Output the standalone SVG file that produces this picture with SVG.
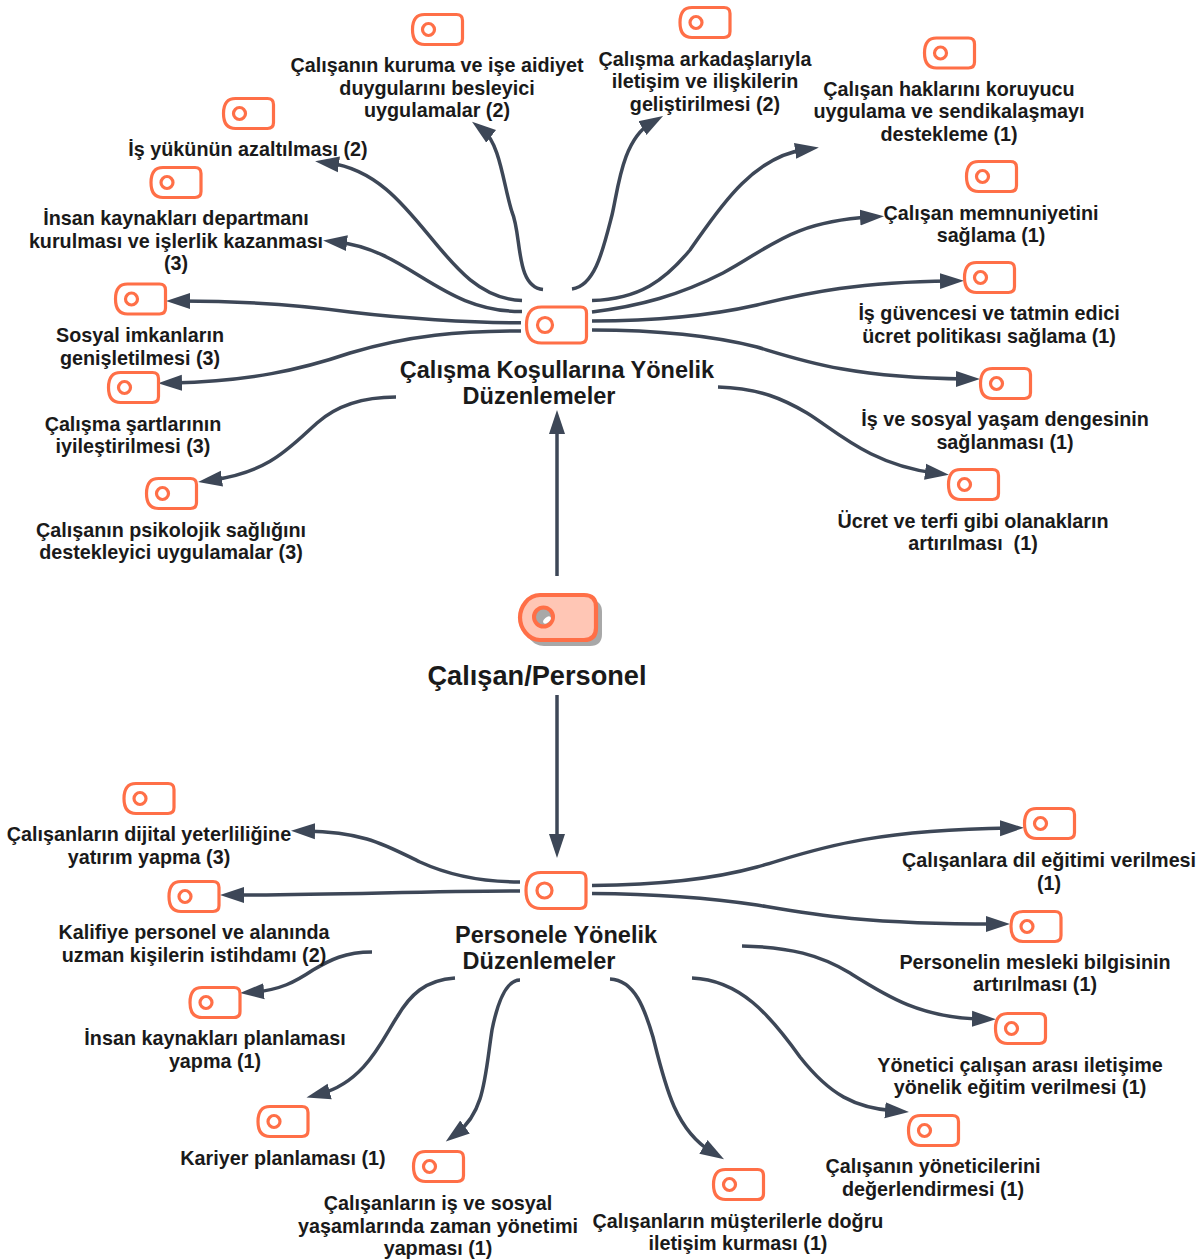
<svg xmlns="http://www.w3.org/2000/svg" width="1204" height="1260" viewBox="0 0 1204 1260">
<style>
text{font-family:"Liberation Sans",Arial,sans-serif;font-weight:700;fill:#1a1a1a;text-anchor:middle}
.l{font-size:19.75px}
.m{font-size:23.5px}
.r{font-size:27.2px}
.tag{fill:#fff;stroke:#ff6f47;stroke-width:3.2}
.hole{fill:#fff;stroke:#ff6f47;stroke-width:3.2}
.c{fill:none;stroke:#3d4757;stroke-width:3.5;marker-end:url(#a)}
</style>
<defs>
<marker id="a" markerUnits="userSpaceOnUse" markerWidth="26" markerHeight="18" refX="10" refY="8" orient="auto" viewBox="0 0 26 16"><path d="M0 0L24 8L0 16Z" fill="#3d4757"/></marker>
<g id="t"><path class="tag" d="M-13-15H19Q25-15 25-9V9Q25 15 19 15H-13Q-25 15-25 0Q-25-15-13-15Z"/><circle class="hole" cx="-9" cy="0" r="6"/></g>
<g id="tb"><path class="tag" d="M-15-18H24Q30-18 30-12V12Q30 18 24 18H-15Q-30 18-30 0Q-30-18-15-18Z"/><circle class="hole" cx="-11.500" cy="0" r="7.500"/></g>
</defs>
<g id="connectors">
<path class="c" d="M543 289.500C515 287 522 235 512 212C504 188 500 143 483.200 130.300"/>
<path class="c" d="M572 289C595 286 603 250 612 215C618 190 622 140 651 123"/>
<path class="c" d="M592 300.500C640 299 665 280 690 250C715 215 750 157 805 149.500"/>
<path class="c" d="M592 312C640 306 680 295 723 273C770 248 790 222 870 217"/>
<path class="c" d="M592 321C640 321 700 318 757 305C810 292 860 282 950 281"/>
<path class="c" d="M592 330C650 330 710 335 757 347C800 360 850 378 966 379"/>
<path class="c" d="M718 387C760 388 785 400 807 413C835 430 870 465 935 473"/>
<path class="c" d="M522 300.500C440 298 420 175 329 163"/>
<path class="c" d="M522 311.500C440 312 410 250 337 242"/>
<path class="c" d="M521 322.700C470 323 400 318 350 312C300 305 250 301 180 301"/>
<path class="c" d="M521 331C460 331 410 335 350 353C300 370 250 381 172 383"/>
<path class="c" d="M396 397C360 397 335 407 317 423C290 447 270 472 212 480"/>
<path class="c" d="M557 576V424"/>
<path class="c" d="M557 695V844"/>
<path class="c" d="M520 882C490 882 455 878 420 862C385 845 365 832 305 831"/>
<path class="c" d="M520 891C430 891 330 895 234 895"/>
<path class="c" d="M372 952C345 952 330 960 313 970C295 982 280 990 254 992"/>
<path class="c" d="M455 978C425 980 410 995 397 1017C382 1040 365 1082 320 1094"/>
<path class="c" d="M520 980C505 980 497 1005 492 1030C485 1075 485 1112 457 1133"/>
<path class="c" d="M610 979C635 980 645 1010 653 1037C665 1085 675 1130 712 1152"/>
<path class="c" d="M692 978C740 980 770 1015 800 1057C830 1095 855 1108 895 1111"/>
<path class="c" d="M742 946C790 947 820 955 850 973C885 995 920 1018 982 1019"/>
<path class="c" d="M592 893.500C650 894 710 898 757 905C810 914 860 924 996 924"/>
<path class="c" d="M592 885.500C650 885 710 880 757 867C810 852 860 830 1010 828"/>
</g>
<g id="root">
<path d="M544 600H590Q602 600 602 612V634Q602 646 590 646H544C532 646 524 634 524 623C524 612 532 600 544 600Z" fill="#a8a8a8"/>
<path d="M540 595H584Q596 595 596 607V628Q596 640 584 640H540C528 640 520 628 520 617.500C520 607 528 595 540 595Z" fill="#ffc6b5" stroke="#ff6f47" stroke-width="4.200"/>
<circle cx="543.500" cy="617" r="9.500" fill="#a8a8a8" stroke="#ff6f47" stroke-width="4"/>
<ellipse cx="547" cy="620" rx="4.500" ry="2.500" transform="rotate(-40 547 620)" fill="#fff"/>
<text class="r" x="537" y="685">Çalışan/Personel</text>
</g>
<g id="n-calisma"><use href="#tb" x="556.500" y="325"/><text class="m" x="557" y="378">Çalışma Koşullarına Yönelik</text><text class="m" x="539" y="404">Düzenlemeler</text></g>
<g id="n-personel"><use href="#tb" x="556" y="890.500"/><text class="m" x="556" y="943">Personele Yönelik</text><text class="m" x="539" y="969">Düzenlemeler</text></g>
<g id="n1"><use href="#t" x="437.500" y="29.500"/><text class="l" x="437" y="72">Çalışanın kuruma ve işe aidiyet</text><text class="l" x="437" y="95">duygularını besleyici</text><text class="l" x="437" y="117">uygulamalar (2)</text></g>
<g id="n2"><use href="#t" x="705" y="22.500"/><text class="l" x="705" y="66">Çalışma arkadaşlarıyla</text><text class="l" x="705" y="88">iletişim ve ilişkilerin</text><text class="l" x="705" y="111">geliştirilmesi (2)</text></g>
<g id="n3"><use href="#t" x="949.500" y="53"/><text class="l" x="949" y="96">Çalışan haklarını koruyucu</text><text class="l" x="949" y="118">uygulama ve sendikalaşmayı</text><text class="l" x="949" y="141">destekleme (1)</text></g>
<g id="n4"><use href="#t" x="248.500" y="113.500"/><text class="l" x="248" y="156">İş yükünün azaltılması (2)</text></g>
<g id="n5"><use href="#t" x="176" y="182.500"/><text class="l" x="176" y="225">İnsan kaynakları departmanı</text><text class="l" x="176" y="248">kurulması ve işlerlik kazanması</text><text class="l" x="176" y="270">(3)</text></g>
<g id="n6"><use href="#t" x="991.500" y="176.500"/><text class="l" x="991" y="220">Çalışan memnuniyetini</text><text class="l" x="991" y="242">sağlama (1)</text></g>
<g id="n7"><use href="#t" x="989.500" y="277.500"/><text class="l" x="989" y="320">İş güvencesi ve tatmin edici</text><text class="l" x="989" y="343">ücret politikası sağlama (1)</text></g>
<g id="n8"><use href="#t" x="140.500" y="299"/><text class="l" x="140" y="342">Sosyal imkanların</text><text class="l" x="140" y="365">genişletilmesi (3)</text></g>
<g id="n9"><use href="#t" x="1005.500" y="383.500"/><text class="l" x="1005" y="426">İş ve sosyal yaşam dengesinin</text><text class="l" x="1005" y="449">sağlanması (1)</text></g>
<g id="n10"><use href="#t" x="133.500" y="387.500"/><text class="l" x="133" y="431">Çalışma şartlarının</text><text class="l" x="133" y="453">iyileştirilmesi (3)</text></g>
<g id="n11"><use href="#t" x="973.500" y="484.500"/><text class="l" x="973" y="528">Ücret ve terfi gibi olanakların</text><text class="l" x="973" y="550" xml:space="preserve">artırılması  (1)</text></g>
<g id="n12"><use href="#t" x="171.500" y="493.500"/><text class="l" x="171" y="537">Çalışanın psikolojik sağlığını</text><text class="l" x="171" y="559">destekleyici uygulamalar (3)</text></g>
<g id="n13"><use href="#t" x="149" y="798.500"/><text class="l" x="149" y="841">Çalışanların dijital yeterliliğine</text><text class="l" x="149" y="864">yatırım yapma (3)</text></g>
<g id="n14"><use href="#t" x="1049.500" y="823.500"/><text class="l" x="1049" y="867">Çalışanlara dil eğitimi verilmesi</text><text class="l" x="1049" y="890">(1)</text></g>
<g id="n15"><use href="#t" x="194" y="896.500"/><text class="l" x="194" y="939">Kalifiye personel ve alanında</text><text class="l" x="194" y="962">uzman kişilerin istihdamı (2)</text></g>
<g id="n16"><use href="#t" x="1036" y="926.500"/><text class="l" x="1035" y="969">Personelin mesleki bilgisinin</text><text class="l" x="1035" y="991">artırılması (1)</text></g>
<g id="n17"><use href="#t" x="215" y="1002.500"/><text class="l" x="215" y="1045">İnsan kaynakları planlaması</text><text class="l" x="215" y="1068">yapma (1)</text></g>
<g id="n18"><use href="#t" x="1020.500" y="1028.500"/><text class="l" x="1020" y="1072">Yönetici çalışan arası iletişime</text><text class="l" x="1020" y="1094">yönelik eğitim verilmesi (1)</text></g>
<g id="n19"><use href="#t" x="283" y="1121.500"/><text class="l" x="283" y="1165">Kariyer planlaması (1)</text></g>
<g id="n20"><use href="#t" x="933.500" y="1130.500"/><text class="l" x="933" y="1173">Çalışanın yöneticilerini</text><text class="l" x="933" y="1196">değerlendirmesi (1)</text></g>
<g id="n21"><use href="#t" x="438.500" y="1166.500"/><text class="l" x="438" y="1210">Çalışanların iş ve sosyal</text><text class="l" x="438" y="1233">yaşamlarında zaman yönetimi</text><text class="l" x="438" y="1255">yapması (1)</text></g>
<g id="n22"><use href="#t" x="738.500" y="1184.500"/><text class="l" x="738" y="1228">Çalışanların müşterilerle doğru</text><text class="l" x="738" y="1250">iletişim kurması (1)</text></g>
</svg>
